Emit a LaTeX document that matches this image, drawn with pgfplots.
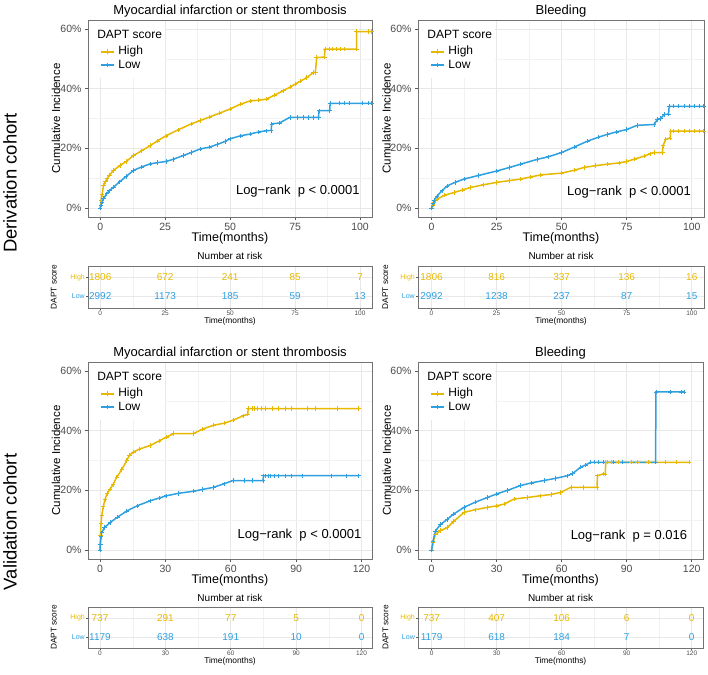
\documentclass[border=0pt]{standalone}
\usepackage{pgfplots}
\pgfplotsset{compat=1.18}
\usepackage{fontspec}
\setmainfont{Liberation Sans}
\definecolor{highc}{HTML}{E7B800}
\definecolor{lowc}{HTML}{2E9FDF}
\pgfplotsset{
  base/.style={scale only axis, grid=both, tick pos=left, tick align=outside,
    major tick length=3pt, minor tick length=0pt,
    major grid style={black!9, line width=0.6pt},
    minor grid style={black!5, line width=0.35pt},
    axis line style={black!55, line width=0.7pt},
    tick style={black!65, line width=0.6pt},
    /pgf/number format/assume math mode=true},
  km/.style={base, width=284pt, height=197pt, ymin=-3, ymax=63,
    ytick={0,20,40,60}, yticklabels={0\%,20\%,40\%,60\%}, minor ytick={10,30,50},
    ticklabel style={font=\fontsize{10.5}{12}\selectfont, text=black!70},
    xlabel={Time(months)}, ylabel={Cumulative Incidence},
    xlabel style={font=\fontsize{12.5}{14}\selectfont, at={(axis description cs:0.5,-0.11)}, anchor=center},
    ylabel style={font=\fontsize{11.5}{14}\selectfont, at={(axis description cs:-0.113,0.5)}, anchor=center},
    title style={font=\fontsize{13}{15}\selectfont, at={(axis description cs:0.5,1)}, anchor=base, yshift=-0.5pt},
    legend style={draw=none, fill=none, at={(axis description cs:0.042,0.805)}, anchor=west,
      inner sep=0pt, column sep=3.7pt, row sep=2.3pt,
      nodes={inner sep=0pt, text height=8.6pt, text depth=2.4pt, font=\fontsize{12}{14}\selectfont}},
    legend cell align=left},
  hileg/.style={legend image code/.code={\draw[highc, line width=1.5pt] (0pt,0pt)--(13pt,0pt); \draw[highc, line width=0.7pt] (6.5pt,-2.3pt)--(6.5pt,2.3pt);}},
  loleg/.style={legend image code/.code={\draw[lowc, line width=1.5pt] (0pt,0pt)--(13pt,0pt); \draw[lowc, line width=0.7pt] (6.5pt,-2.3pt)--(6.5pt,2.3pt);}},
  hi/.style={sharp plot, highc, line width=1.5pt, mark=+, mark size=2.2pt, mark options={line width=0.6pt}, forget plot},
  lo/.style={sharp plot, lowc, line width=1.5pt, mark=+, mark size=2.2pt, mark options={line width=0.6pt}, forget plot},
  cens/.style={only marks, mark=+, #1, mark size=2.2pt, mark options={line width=0.6pt}, forget plot},
  tab/.style={base, width=284pt, height=42pt, ymin=0.4, ymax=2.6, ytick={1,2},
    yticklabels={\textcolor{lowc}{Low},\textcolor{highc}{High}}, major tick length=2pt,
    xticklabel style={font=\fontsize{6.5}{7}\selectfont, text=black!70, inner sep=0.5pt},
    yticklabel style={font=\fontsize{7}{8}\selectfont, inner sep=1pt},
    title={Number at risk},
    title style={font=\fontsize{10}{12}\selectfont, at={(axis description cs:0.5,1)}, anchor=base, yshift=0pt},
    xlabel={Time(months)},
    xlabel style={font=\fontsize{8.4}{10}\selectfont, at={(axis description cs:0.5,-0.32)}, anchor=center},
    ylabel={DAPT score},
    ylabel style={font=\fontsize{8.3}{10}\selectfont, at={(axis description cs:-0.12,0.5)}, anchor=center}},
  num/.style={draw=none, mark=none, nodes near coords, point meta=explicit symbolic,
    nodes near coords style={anchor=center, font=\fontsize{10}{12}\selectfont, text=#1}}
}
\tikzset{bannot/.style={anchor=east, font=\fontsize{13}{15}\selectfont}}
\newcommand{\dapt}{\node[anchor=west, font=\fontsize{12}{14}\selectfont, inner sep=0pt] at (axis description cs:0.032,0.928) {DAPT score};}
\newcommand{\legbg}{\fill[white] (axis description cs:0.004,0.995) rectangle (axis description cs:0.27,0.705);}
\newcommand{\legimgs}{\addlegendimage{hileg}\addlegendentry{High}\addlegendimage{loleg}\addlegendentry{Low}}
\begin{document}
\begin{tikzpicture}[x=1pt,y=1pt]
\path[use as bounding box] (0,0) rectangle (708,674);

\node[rotate=90, font=\fontsize{18.5}{20}\selectfont] at (10,491) {Derivation cohort};
\node[rotate=90, font=\fontsize{18.5}{20}\selectfont] at (10,152) {Validation cohort};

% ---------------- Derivation: MI or ST
\begin{axis}[km, at={(88pt,457pt)}, anchor=south west, xmin=-4.7, xmax=104.6,
  xtick={0,25,50,75,100}, minor xtick={12.5,37.5,62.5,87.5},
  title={Myocardial infarction or stent thrombosis}]
\legimgs
\legbg
\addplot[hi] coordinates {(0,0) (0.3,2.5) (0.7,4.5) (1.3,7.6) (2,8.8) (2.6,9.8) (3.5,11) (5.1,12.6) (7.7,14.3) (10,15.6) (12.8,17.6) (16,19.2) (19.2,20.9) (22,22.5) (25.3,24.2) (30,26.2) (35,28.2) (38.5,29.3) (42,30.5) (46,31.8) (50,33.2) (54,34.8) (57.7,35.9) (61,36.1) (64,36.5) (67,37.8) (70.5,39.3) (73,40.5) (75,41.5) (77,42.5) (79.5,43.7) (82,45.4) (82.8,45.4) (83.3,50.4) (86.3,50.6) (86.5,53.2) (98.7,53.2) (98.7,59.1) (104.5,59.1)};
\addplot[lo] coordinates {(0,0) (0.3,1) (0.7,2) (1.3,3.2) (2.5,4.8) (3.5,5.8) (5.1,7) (7.5,8.8) (10,10.6) (12.8,12.6) (16,13.8) (19.2,14.8) (22,15.2) (25.3,15.6) (28,16.3) (32,17.6) (35,18.6) (38.5,19.8) (42,20.4) (45,21.3) (48,22.3) (50,23.2) (54,24.2) (57.7,24.8) (61,25.5) (64,25.9) (65.8,26) (66,28.2) (69,28.5) (73,30.4) (84,30.4) (84.2,32.6) (88.3,32.6) (88.5,35.1) (104.5,35.1)};
\addplot[cens=highc] coordinates {(88,53.2) (89.5,53.2) (91,53.2) (92.5,53.2) (94,53.2) (103,59.1)};
\addplot[cens=lowc] coordinates {(76,30.4) (78,30.4) (80,30.4) (82,30.4) (92,35.1) (94,35.1) (96,35.1) (101,35.1) (103,35.1)};
\dapt
\node[bannot] at (axis cs:101.2,5.5) {Log−rank~ p < 0.0001};
\end{axis}

% ---------------- Derivation: Bleeding
\begin{axis}[km, width=286pt, at={(418pt,457pt)}, anchor=south west, xmin=-5.2, xmax=104.7,
  xtick={0,25,50,75,100}, minor xtick={12.5,37.5,62.5,87.5},
  ylabel style={at={(axis description cs:-0.110,0.5)}},
  title={Bleeding}]
\legimgs
\legbg
\addplot[hi] coordinates {(0,0) (0.5,1) (1,1.8) (2.2,3) (5,4.3) (8.6,5.2) (12,6.1) (15,6.9) (20,7.8) (25,8.6) (30,9.2) (34.2,9.7) (38,10.4) (41.9,11.1) (50,11.7) (55,12.7) (58.6,13.6) (63,14.2) (67.6,14.7) (72,15.1) (75,15.6) (78,16.4) (81.7,17.4) (84,18.2) (85.5,18.6) (88.7,18.6) (89,21) (90,23) (91.7,23.5) (91.9,25.8) (104.6,25.8)};
\addplot[lo] coordinates {(0,0) (0.5,1.5) (1,2.5) (2.2,4.1) (4,5.8) (6,7.4) (9,8.6) (12.4,9.7) (18,10.9) (25,12.4) (30,13.6) (34.2,14.7) (40.6,16.3) (45,17.2) (50,18.6) (55,20.5) (59.9,22.4) (64,23.7) (67.6,24.7) (71,25.5) (75,26.3) (79,27.7) (85.5,28) (86.8,29.7) (88,30) (89.4,31.3) (91.1,31.5) (91.3,34.1) (104.6,34.1)};
\addplot[cens=highc] coordinates {(93,25.8) (95,25.8) (97,25.8) (99,25.8) (101,25.8) (103,25.8)};
\addplot[cens=lowc] coordinates {(93,34.1) (95,34.1) (97,34.1) (99,34.1) (101,34.1) (103,34.1)};
\dapt
\node[bannot] at (axis cs:101,5.4) {Log−rank~ p < 0.0001};
\end{axis}

% ---------------- Derivation tables
\begin{axis}[tab, at={(88pt,366pt)}, anchor=south west, xmin=-4.7, xmax=104.6,
  xtick={0,25,50,75,100}, minor xtick={12.5,37.5,62.5,87.5}]
\addplot[num=highc] coordinates {(0,2) [1806] (25,2) [672] (50,2) [241] (75,2) [85] (100,2) [7]};
\addplot[num=lowc] coordinates {(0,1) [2992] (25,1) [1173] (50,1) [185] (75,1) [59] (100,1) [13]};
\end{axis}
\begin{axis}[tab, width=286pt, at={(418pt,366pt)}, anchor=south west, xmin=-5.2, xmax=104.7,
  xtick={0,25,50,75,100}, minor xtick={12.5,37.5,62.5,87.5},
  ylabel style={at={(axis description cs:-0.114,0.5)}}]
\addplot[num=highc] coordinates {(0,2) [1806] (25,2) [816] (50,2) [337] (75,2) [136] (100,2) [16]};
\addplot[num=lowc] coordinates {(0,1) [2992] (25,1) [1238] (50,1) [237] (75,1) [87] (100,1) [15]};
\end{axis}

% ---------------- Validation: MI or ST
\begin{axis}[km, at={(88pt,115pt)}, anchor=south west, xmin=-5.5, xmax=124.8,
  xtick={0,30,60,90,120}, minor xtick={15,45,75,105},
  title={Myocardial infarction or stent thrombosis}]
\legimgs
\legbg
\addplot[hi] coordinates {(0,0) (0.2,5) (0.5,9) (0.8,11.5) (1.5,14.5) (2.3,17) (3.3,19) (4.6,20.4) (6,22) (7.7,24.4) (10,27) (12.3,30) (13.5,31.8) (15.3,32.8) (18,33.8) (23,35) (27,36.5) (30.6,37.9) (33.7,39) (42.9,39) (47,40.5) (52,41.8) (57,42.5) (61,43.5) (65.8,45) (67.8,45.5) (68,47.4) (118.7,47.4)};
\addplot[lo] coordinates {(0,0) (0.2,2) (0.5,4.5) (0.8,5.8) (2,7.5) (4.6,9.2) (8,11) (12.3,13.1) (17,14.8) (23,16.5) (27,17.4) (30.6,18.2) (36,19) (42.9,19.7) (47,20.3) (52,21) (57,22.2) (61,23.3) (74.8,23.3) (75,24.9) (118.7,24.9)};
\addplot[cens=highc] coordinates {(70,47.4) (71,47.4) (72,47.4) (74,47.4) (76,47.4) (79,47.4) (82,47.4) (85,47.4) (88,47.4) (95,47.4) (99,47.4) (109,47.4)};
\addplot[cens=lowc] coordinates {(66,23.3) (70,23.3) (76,24.9) (77,24.9) (78,24.9) (80,24.9) (82,24.9) (85,24.9) (88,24.9) (93,24.9) (106,24.9) (113,24.9)};
\dapt
\node[bannot] at (axis cs:121.5,5) {Log−rank~ p < 0.0001};
\end{axis}

% ---------------- Validation: Bleeding
\begin{axis}[km, width=285pt, at={(418pt,115pt)}, anchor=south west, xmin=-6.3, xmax=125.2,
  xtick={0,30,60,90,120}, minor xtick={15,45,75,105},
  ylabel style={at={(axis description cs:-0.110,0.5)}},
  title={Bleeding}]
\legimgs
\legbg
\addplot[hi] coordinates {(0,0) (0.6,2.5) (1.8,5.3) (4,6.5) (7.2,7.5) (10,9.5) (14.9,12.6) (20,13.5) (25.7,14.3) (30,14.8) (33.4,15.4) (38,17.1) (44,17.6) (50.3,18.2) (55,18.6) (59.5,19.3) (64.2,21) (76.3,21) (76.5,24.9) (79,25.5) (80.1,25.5) (80.3,29.4) (118.8,29.4)};
\addplot[lo] coordinates {(0,0) (0.6,3) (1.8,6.4) (4,8.5) (7.2,10.3) (10,12) (14.9,14.3) (20,16) (25.7,17.6) (30,18.8) (35,20) (41,21.6) (46,22.5) (51.8,23.3) (57,24) (62.6,24.9) (65,25.6) (68.8,27.8) (71,28.5) (73.4,29.4) (103.3,29.4) (103.5,53) (116.5,53)};
\addplot[cens=highc] coordinates {(70,21) (81,29.4) (83,29.4) (86,29.4) (92,29.4) (95,29.4) (100,29.4) (108,29.4) (113,29.4)};
\addplot[cens=lowc] coordinates {(75,29.4) (77,29.4) (79,29.4) (84,29.4) (88,29.4) (110,53) (115,53)};
\dapt
\node[bannot] at (axis cs:119.5,4.8) {Log−rank~ p = 0.016};
\end{axis}

% ---------------- Validation tables
\begin{axis}[tab, height=41pt, at={(88pt,26pt)}, anchor=south west, xmin=-5.5, xmax=124.8,
  xtick={0,30,60,90,120}, minor xtick={15,45,75,105}]
\addplot[num=highc] coordinates {(0,2) [737] (30,2) [291] (60,2) [77] (90,2) [5] (120,2) [0]};
\addplot[num=lowc] coordinates {(0,1) [1179] (30,1) [638] (60,1) [191] (90,1) [10] (120,1) [0]};
\end{axis}
\begin{axis}[tab, height=41pt, width=285pt, at={(418pt,26pt)}, anchor=south west, xmin=-6.3, xmax=125.2,
  xtick={0,30,60,90,120}, minor xtick={15,45,75,105},
  ylabel style={at={(axis description cs:-0.114,0.5)}}]
\addplot[num=highc] coordinates {(0,2) [737] (30,2) [407] (60,2) [106] (90,2) [6] (120,2) [0]};
\addplot[num=lowc] coordinates {(0,1) [1179] (30,1) [618] (60,1) [184] (90,1) [7] (120,1) [0]};
\end{axis}
\end{tikzpicture}
\end{document}
